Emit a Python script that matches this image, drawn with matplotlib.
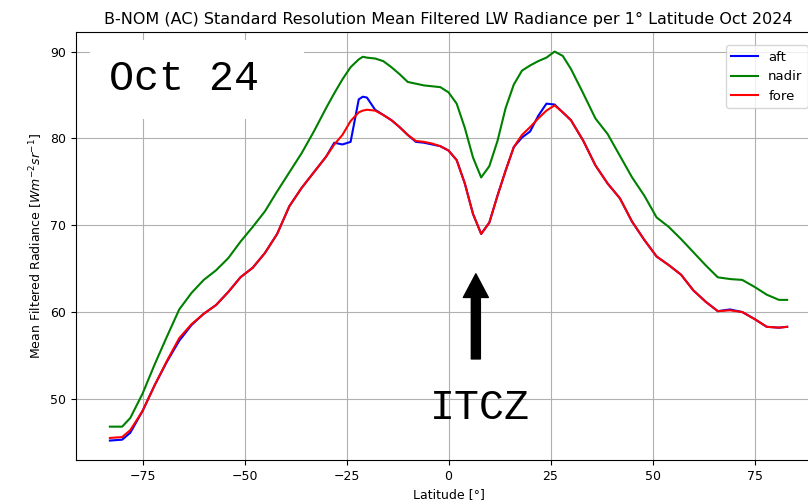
import numpy as np
import matplotlib
matplotlib.use("Agg")
import matplotlib.pyplot as plt

# values (latitude in degrees, radiance in W m-2 sr-1)
lat = [-83, -80, -78, -75, -72, -69, -66, -63, -60, -57, -54, -51, -48, -45, -42,
       -39, -36, -33, -30, -28, -26, -24, -22, -21, -20, -18, -16, -14, -12, -10,
       -8, -6, -4, -2, 0, 2, 4, 6, 8, 10, 12, 14, 16, 18, 20, 22, 24, 26, 28, 30,
       33, 36, 39, 42, 45, 48, 51, 54, 57, 60, 63, 66, 69, 72, 75, 78, 81, 83]

nadir = [46.8, 46.8, 47.8, 50.6, 54.0, 57.2, 60.3, 62.2, 63.7, 64.8, 66.2, 68.1, 69.8, 71.6, 73.9,
         76.1, 78.3, 80.8, 83.5, 85.2, 86.8, 88.2, 89.1, 89.4, 89.3, 89.2, 88.9, 88.2, 87.4, 86.5,
         86.3, 86.1, 86.0, 85.9, 85.3, 84.0, 81.2, 77.8, 75.5, 76.8, 79.7, 83.5, 86.2, 87.8, 88.4, 88.9,
         89.3, 90.0, 89.5, 88.0,
         85.2, 82.3, 80.5, 78.0, 75.5, 73.4, 70.9, 69.8, 68.4, 66.9, 65.4, 64.0, 63.8, 63.7, 62.9, 62.0, 61.4, 61.4]

fore = [45.5, 45.6, 46.4, 48.6, 51.6, 54.4, 57.0, 58.6, 59.8, 60.8, 62.3, 64.0, 65.1, 66.8, 69.0,
        72.2, 74.3, 76.1, 77.9, 79.3, 80.4, 82.0, 83.0, 83.2, 83.3, 83.2, 82.7, 82.1, 81.3, 80.4,
        79.7, 79.6, 79.4, 79.1, 78.6, 77.5, 74.8, 71.3, 69.0, 70.3, 73.4, 76.3, 79.0, 80.4, 81.3, 82.3,
        83.2, 83.8, 83.0, 82.1,
        79.75, 76.9, 74.8, 73.1, 70.4, 68.3, 66.4, 65.4, 64.3, 62.5, 61.2, 60.1, 60.2, 60.0, 59.2, 58.3, 58.2, 58.3]

aft = [45.2, 45.3, 46.1, 48.6, 51.6, 54.3, 56.7, 58.5, 59.8, 60.8, 62.3, 64.0, 65.1, 66.8, 69.0,
       72.2, 74.3, 76.1, 77.9, 79.5, 79.3, 79.6, 84.5, 84.8, 84.7, 83.3, 82.7, 82.1, 81.3, 80.4,
       79.6, 79.5, 79.3, 79.1, 78.6, 77.5, 74.8, 71.3, 69.0, 70.3, 73.4, 76.3, 79.0, 80.1, 80.8, 82.6,
       84.0, 83.9, 83.0, 82.1,
       79.75, 76.9, 74.8, 73.1, 70.4, 68.3, 66.4, 65.4, 64.3, 62.5, 61.2, 60.1, 60.3, 60.0, 59.2, 58.3, 58.2, 58.3]

itcz_lat = 6.7

fig = plt.figure(figsize=(8.08, 5.04), dpi=100)
ax = fig.add_axes([0.0941, 0.0873, 0.922, 0.849])  # right side runs off the figure like the crop

ax.plot(lat, aft, color="blue", lw=1.5, label="aft")
ax.plot(lat, nadir, color="green", lw=1.5, label="nadir")
ax.plot(lat, fore, color="red", lw=1.5, label="fore")

ax.set_xticks([-75, -50, -25, 0, 25, 50, 75])
ax.set_yticks([50, 60, 70, 80, 90])
ax.grid(True)
ax.set_title("B-NOM (AC) Standard Resolution Mean Filtered LW Radiance per 1° Latitude Oct 2024", fontsize=11.5)
ax.set_xlabel("Latitude [°]", fontsize=9)
ax.set_ylabel("Mean Filtered Radiance [$Wm^{-2}sr^{-1}$]", fontsize=9)
ax.tick_params(labelsize=9)
ax.legend(loc="upper right", fontsize=9.5, borderaxespad=1.0)

ax.text(-83.1, 86.8, "Oct 24 ", family="Liberation Mono", fontsize=30, va="center",
        bbox=dict(facecolor="white", edgecolor="none", pad=14))

ax.annotate("", xy=(itcz_lat, 64.4), xytext=(itcz_lat, 54.6),
            arrowprops=dict(facecolor="black", edgecolor="black", width=6.5,
                            headwidth=18, headlength=17, shrink=0))
ax.text(7.6, 47.7, "ITCZ", family="Liberation Mono", fontsize=30, ha="center", va="baseline")

fig.savefig("out.png", dpi=100)
